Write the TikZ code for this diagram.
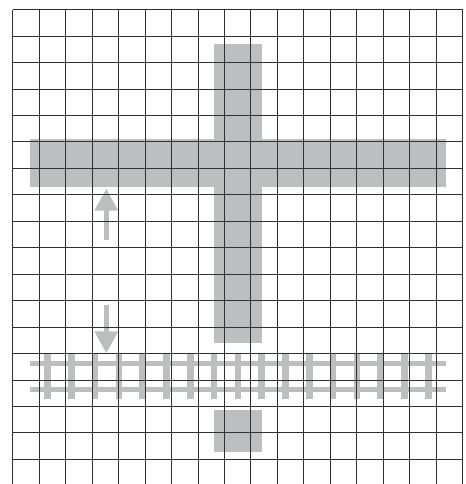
\documentclass[tikz,border=0pt]{standalone}
\usepackage{xcolor}
\usetikzlibrary{arrows.meta}
\definecolor{blockgray}{HTML}{BDBEC0}
\definecolor{gridgray}{HTML}{303030}
\begin{document}
\begin{tikzpicture}[
  x=0.75pt, y=-0.75pt,
  block/.style={fill=blockgray, draw=none},
  rail/.style={draw=blockgray, line width=3.9pt},
  sleeper/.style={draw=blockgray, line width=4.9pt},
  move/.style={draw=blockgray, line width=3.4pt, -{Triangle[length=16.5pt, width=17pt]}},
  gridline/.style={draw=gridgray, line width=0.74pt},
]
\useasboundingbox (0,0) rectangle (466,484);
% cross and the small block
\fill[block] (30,139) rectangle (445.7,186.7);
\fill[block] (214,44) rectangle (261.7,342.7);
\fill[block] (214,410.3) rectangle (261.7,451.7);
% track
\draw[rail] (30,363.7) -- (445.7,363.7);
\draw[rail] (30,389.7) -- (445.7,389.7);
\foreach \k in {0,...,16} {
  \draw[sleeper] ({47.5+23.8*\k},353.3) -- ({47.5+23.8*\k},398.7);
}
% arrows
\coordinate (uptail) at (106.3,240);
\coordinate (uphead) at (106.3,188.7);
\coordinate (downtail) at (106.3,305.3);
\coordinate (downhead) at (106.3,353.3);
\draw[move] (uptail) -- (uphead);
\draw[move] (downtail) -- (downhead);
% grid
\foreach \i in {0,...,17} {
  \draw[gridline] ({12.7+26.47*\i},9.7) -- ({12.7+26.47*\i},484);
}
\foreach \j in {0,...,17} {
  \draw[gridline] (12.7,{9.7+26.45*\j}) -- (462.7,{9.7+26.45*\j});
}
\end{tikzpicture}
\end{document}
